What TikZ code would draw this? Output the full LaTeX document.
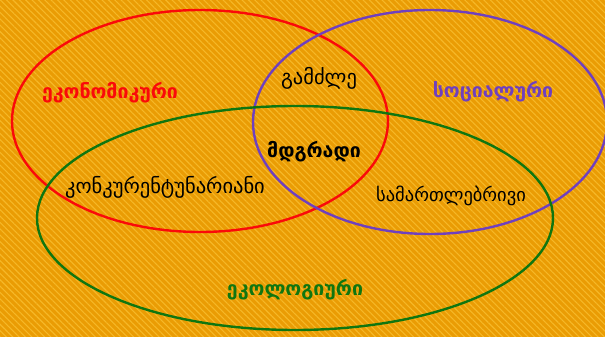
\documentclass[tikz,border=0pt]{standalone}
\usepackage{fontspec}
\newfontfamily\geo{DejaVu Sans}
\usetikzlibrary{patterns.meta}
\definecolor{bgor}{RGB}{234,156,4}
\definecolor{bgst}{RGB}{246,184,40}
\definecolor{cred}{RGB}{250,10,10}
\definecolor{cpur}{RGB}{112,64,190}
\definecolor{cgrn}{RGB}{16,118,16}
\tikzset{
  ring/.style={line width=2.4pt},
  lbl/.style={font=\geo\fontsize{20.5}{22}\selectfont, inner sep=0pt},
  blbl/.style={font=\geo\bfseries\fontsize{19.5}{22}\selectfont, inner sep=0pt},
}
\begin{document}
\begin{tikzpicture}[x=1pt,y=-1pt]
\fill[bgor] (0,0) rectangle (605,337);
\fill[pattern={Lines[angle=-45,distance=4.5pt,line width=1.1pt]},pattern color=bgst] (0,0) rectangle (605,337);
\useasboundingbox (0,0) rectangle (605,337);
\draw[ring,cred] (200,121) ellipse [x radius=188, y radius=111];
\draw[ring,cpur] (430,122) ellipse [x radius=177, y radius=112];
\draw[ring,cgrn] (295,218) ellipse [x radius=258, y radius=112];
\node[blbl,cred] (eco) at (110,93) {ეკონომიკური};
\node[blbl,cpur] (soc) at (493,92) {სოციალური};
\node[blbl,cgrn] (ekol) at (295,290) {ეკოლოგიური};
\node[lbl,black] (gam) at (319,78) {გამძლე};
\node[blbl,black] (mdg) at (314,152) {მდგრადი};
\node[lbl,black] (kon) at (165,187) {კონკურენტუნარიანი};
\node[lbl,black,font=\geo\fontsize{18.5}{20}\selectfont] (sam) at (451,196) {სამართლებრივი};
\end{tikzpicture}
\end{document}
